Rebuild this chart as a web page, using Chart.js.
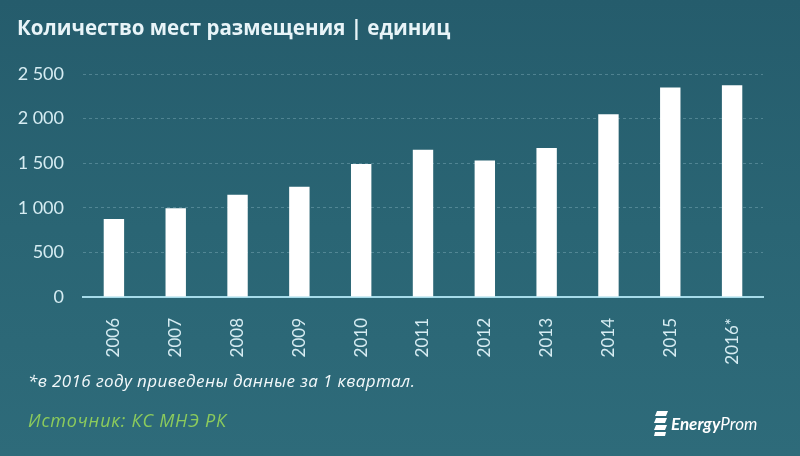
<!DOCTYPE html>
<html lang="ru">
<head>
<meta charset="utf-8">
<script src="https://cdn.jsdelivr.net/npm/chart.js@4.4.1/dist/chart.umd.min.js"></script>
<style>
  html, body { margin: 0; padding: 0; }
  body {
    width: 800px; height: 456px; overflow: hidden; position: relative;
    background: linear-gradient(180deg, #255c6c 0%, #2a6574 50%, #2e6b7a 100%);
    font-family: Lato, "Open Sans", sans-serif;
  }
  #wrap { position: absolute; left: 0; top: 0; width: 800px; height: 456px; }
  .title {
    position: absolute; left: 17px; top: 16px; line-height: 22px;
    font-family: "Open Sans", sans-serif;
    font-size: 20.5px; font-weight: bold; color: #e8f4f8; white-space: nowrap;
  }
  .note {
    position: absolute; left: 28px; top: 371px; line-height: 20px;
    font-family: "Open Sans", sans-serif;
    font-size: 17px; font-style: italic; color: #f2f8fa; white-space: nowrap;
    letter-spacing: 0.4px;
  }
  .source {
    position: absolute; left: 28px; top: 409px; line-height: 22px;
    font-family: "Open Sans", sans-serif;
    font-size: 18px; font-style: italic; color: #8ccb5c; white-space: nowrap;
    letter-spacing: 0.8px;
  }
  .logo {
    position: absolute; left: 654px; top: 409px; height: 28px;
    display: flex; align-items: center; color: #ffffff; white-space: nowrap;
  }
  .logo span { font-size: 17px; font-style: italic; margin-left: 3px; }
  .logo b { font-weight: bold; }
</style>
</head>
<body>
<div id="wrap"><canvas id="chart" width="800" height="456"></canvas></div>
<div class="title">Количество мест размещения | единиц</div>
<div class="note">*в 2016 году приведены данные за 1 квартал.</div>
<div class="source">Источник: КС МНЭ РК</div>
<div class="logo">
  <svg width="14" height="26" viewBox="0 0 14 26">
    <path d="M3 1 L14 1 L12 6 L1 6 Z" fill="#fff"/>
    <path d="M2 8 L13 8 L11 13 L0 13 Z" fill="#fff"/>
    <path d="M2 15 L13 15 L11 20 L0 20 Z" fill="#fff"/>
    <path d="M1 22 L12 22 L11 26 L0 26 Z" fill="#fff"/>
  </svg>
  <span><b>Energy</b>Prom</span>
</div>
<script>
const years = ['2006', '2007', '2008', '2009', '2010', '2011', '2012', '2013', '2014', '2015', '2016*'];
const places = [875, 995, 1145, 1235, 1490, 1650, 1530, 1670, 2050, 2350, 2375];
const yTicks = [0, 500, 1000, 1500, 2000, 2500];

function formatNum(v) {
    return String(v).replace(/\B(?=(\d{3})+(?!\d))/g, ' ');
}

const ctx = document.getElementById('chart').getContext('2d');
new Chart(ctx, {
    type: 'bar',
    data: {
        labels: years,
        datasets: [{
            data: places,
            backgroundColor: '#ffffff',
            barPercentage: 0.33,
            categoryPercentage: 1
        }]
    },
    options: {
        responsive: false,
        animation: false,
        layout: { padding: { top: 74, right: 37, left: 0, bottom: 0 } },
        plugins: {
            legend: { display: false },
            tooltip: { enabled: false }
        },
        scales: {
            x: {
                grid: { display: false },
                border: { display: true, color: '#a6dbe9', width: 2 },
                ticks: {
                    color: '#d6ecf2',
                    font: { family: 'Lato', size: 17 },
                    minRotation: 90,
                    maxRotation: 90,
                    padding: 13
                },
                afterFit(scale) { scale.height = 159; }
            },
            y: {
                min: 0,
                max: 2500,
                afterBuildTicks(scale) { scale.ticks = yTicks.map(v => ({ value: v })); },
                grid: { color: 'rgba(185, 222, 232, 0.28)', lineWidth: 1, drawTicks: false },
                border: { display: false, dash: [3, 3] },
                ticks: {
                    color: '#d6ecf2',
                    font: { family: 'Lato', size: 18 },
                    padding: 19,
                    callback: v => formatNum(v)
                },
                afterFit(scale) { scale.width = 83; }
            }
        }
    }
});
</script>
</body>
</html>
